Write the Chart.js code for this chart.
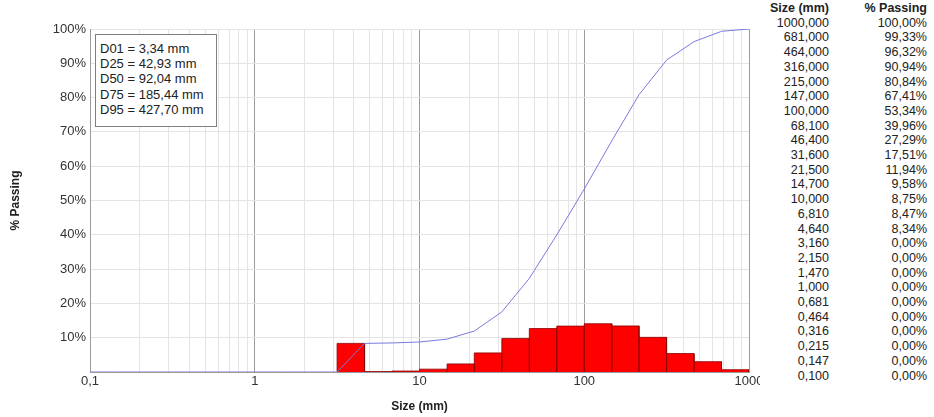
<!DOCTYPE html>
<html>
<head>
<meta charset="utf-8">
<script src="https://cdn.jsdelivr.net/npm/chart.js@4.4.1/dist/chart.umd.min.js"></script>
<style>
    body { margin: 0; background: #fff; font-family: Arial, "Liberation Sans", sans-serif; }
    #wrap { position: relative; width: 934px; height: 417px; overflow: hidden; }
    #dbox {
        position: absolute; left: 95px; top: 34px; width: 116px; height: 85px;
        border: 1px solid #808080; background: #fff; padding: 6px 0 0 4px;
        font-size: 13px; line-height: 15.2px; color: #222;
    }
    #table {
        position: absolute; left: 760px; top: 1px; width: 174px; height: 416px;
        background: #fff; font-size: 12.5px; color: #222;
    }
    #table table { border-collapse: collapse; }
    #table td { padding: 0; line-height: 14.7px; height: 14.7px; text-align: right; white-space: nowrap; }
    #table td.c1 { width: 69px; }
    #table td.c2 { width: 98px; }
    #table tr.head td { font-weight: bold; }
</style>
</head>
<body>
<div id="wrap">
    <canvas id="chart" width="934" height="417"></canvas>
    <div id="dbox"></div>
    <div id="table"></div>
</div>
<script>
// sieve sizes (mm) and cumulative % passing
var sizes = [0.1, 0.147, 0.215, 0.316, 0.464, 0.681, 1, 1.47, 2.15, 3.16, 4.64, 6.81, 10,
    14.7, 21.5, 31.6, 46.4, 68.1, 100, 147, 215, 316, 464, 681, 1000];
var passing = [0, 0, 0, 0, 0, 0, 0, 0, 0, 0, 8.34, 8.47, 8.75,
    9.58, 11.94, 17.51, 27.29, 39.96, 53.34, 67.41, 80.84, 90.94, 96.32, 99.33, 100];
// % retained in each bin sizes[i]..sizes[i+1]
var retained = [0, 0, 0, 0, 0, 0, 0, 0, 0, 8.34, 0.13, 0.28,
    0.83, 2.36, 5.57, 9.78, 12.67, 13.38, 14.07, 13.43, 10.10, 5.38, 3.01, 0.67];
var dLabels = ['D01 = 3,34 mm', 'D25 = 42,93 mm', 'D50 = 92,04 mm', 'D75 = 185,44 mm', 'D95 = 427,70 mm'];
var decades = [0.1, 1, 10, 100, 1000];
var xTickLabels = ['0,1', '1', '10', '100', '1000'];

function isDecade(v) {
    var l = Math.log10(v);
    return Math.abs(l - Math.round(l)) < 1e-6;
}

var curve = [];
for (var i = 0; i < sizes.length; i++) {
    curve.push({ x: sizes[i], y: passing[i] });
}

// outline of the histogram, one rectangle per bin
var hist = [];
for (var j = 0; j < retained.length; j++) {
    if (!retained[j]) continue;
    hist.push({ x: sizes[j], y: 0 });
    hist.push({ x: sizes[j], y: retained[j] });
    hist.push({ x: sizes[j + 1], y: retained[j] });
    hist.push({ x: sizes[j + 1], y: 0 });
}

new Chart(document.getElementById('chart'), {
    type: 'scatter',
    data: {
        datasets: [
            {
                data: curve,
                showLine: true,
                borderColor: '#7a7ae0',
                borderWidth: 1,
                pointRadius: 0,
                fill: false
            },
            {
                data: hist,
                showLine: true,
                borderColor: '#8a0000',
                borderWidth: 0.8,
                backgroundColor: '#ff0000',
                pointRadius: 0,
                fill: 'origin'
            }
        ]
    },
    options: {
        responsive: false,
        devicePixelRatio: 1,
        animation: false,
        layout: { padding: { left: 0, top: 29, right: 185, bottom: 0 } },
        plugins: { legend: { display: false }, tooltip: { enabled: false } },
        scales: {
            x: {
                type: 'logarithmic',
                min: 0.1,
                max: 1000,
                afterFit: function (scale) { scale.height = 45; },
                afterBuildTicks: function (scale) {
                    var ticks = [];
                    for (var d = 0; d < decades.length - 1; d++) {
                        for (var m = 1; m < 10; m++) {
                            ticks.push({ value: decades[d] * m });
                        }
                    }
                    ticks.push({ value: 1000 });
                    scale.ticks = ticks;
                },
                grid: {
                    drawTicks: false,
                    color: function (ctx) {
                        return ctx.tick && isDecade(ctx.tick.value) ? '#9a9a9a' : '#e4e4e4';
                    }
                },
                border: { color: '#9a9a9a' },
                ticks: {
                    autoSkip: false,
                    maxRotation: 0,
                    padding: 2,
                    color: '#333',
                    font: { family: 'Arial, "Liberation Sans"', size: 13 },
                    callback: function (value) {
                        for (var k = 0; k < decades.length; k++) {
                            if (Math.abs(value - decades[k]) < decades[k] * 1e-6) return xTickLabels[k];
                        }
                        return '';
                    }
                },
                title: {
                    display: true,
                    text: 'Size (mm)',
                    color: '#222',
                    padding: { top: 0, bottom: 3 },
                    font: { family: 'Arial, "Liberation Sans"', size: 12, weight: 'bold' }
                }
            },
            y: {
                min: 0,
                max: 100,
                afterFit: function (scale) { scale.width = 90; },
                grid: { drawTicks: false, color: '#e4e4e4' },
                border: { color: '#9a9a9a' },
                ticks: {
                    stepSize: 10,
                    padding: 4,
                    color: '#333',
                    font: { family: 'Arial, "Liberation Sans"', size: 13 },
                    callback: function (value) { return value === 0 ? '' : value + '%'; }
                },
                title: {
                    display: true,
                    text: '% Passing',
                    color: '#222',
                    padding: { top: 8, bottom: 0 },
                    font: { family: 'Arial, "Liberation Sans"', size: 12, weight: 'bold' }
                }
            }
        }
    }
});

document.getElementById('dbox').innerHTML = dLabels.join('<br>');

var rows = ['<tr class="head"><td class="c1">Size (mm)</td><td class="c2">% Passing</td></tr>'];
for (var r = sizes.length - 1; r >= 0; r--) {
    rows.push('<tr><td class="c1">' + sizes[r].toFixed(3).replace('.', ',') + '</td><td class="c2">' +
        passing[r].toFixed(2).replace('.', ',') + '%</td></tr>');
}
document.getElementById('table').innerHTML = '<table>' + rows.join('') + '</table>';
</script>
</body>
</html>
